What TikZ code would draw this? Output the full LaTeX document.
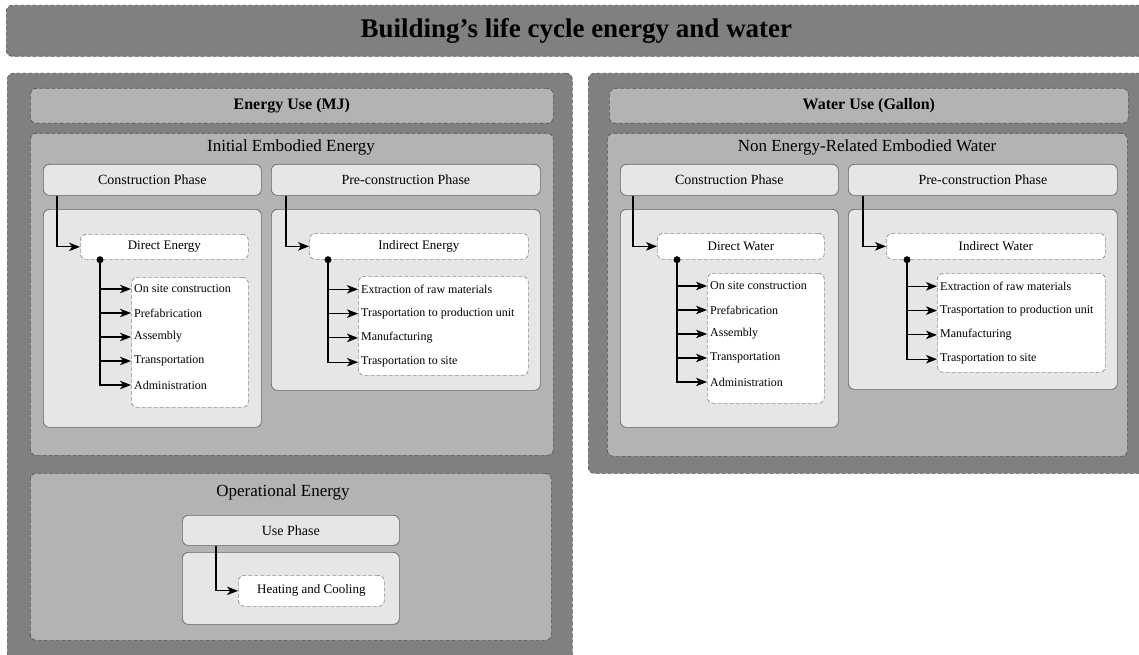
\documentclass[tikz,border=0pt]{standalone}
\usepackage{fontspec}
\setmainfont{Liberation Serif}
\usetikzlibrary{arrows.meta}
\definecolor{panelgray}{HTML}{808080}
\definecolor{headgray}{HTML}{B3B3B3}
\definecolor{phasegray}{HTML}{E6E6E6}
\definecolor{linegray}{HTML}{555555}

\begin{document}
\begin{tikzpicture}[x=1pt,y=-1pt,
    every node/.style={anchor=north west,inner sep=0pt},
    dashbox/.style={draw=linegray,dash pattern=on 4pt off 2pt,line width=0.7pt,rounded corners=6pt},
    panel/.style={dashbox,fill=panelgray},
    headbox/.style={dashbox,fill=headgray},
    phasebox/.style={draw=black!60,line width=0.7pt,fill=phasegray,rounded corners=6pt,font=\fontsize{14}{16}\selectfont},
    leafbox/.style={dashbox,draw=black!45,fill=white,font=\fontsize{13}{15}\selectfont},
    itemtxt/.style={anchor=west,inner xsep=3pt,font=\fontsize{12}{14}\selectfont},
    sectitle/.style={anchor=center,font=\fontsize{17}{19}\selectfont},
    flow/.style={line width=1.1pt,-{Stealth[length=11pt,width=8.5pt,inset=3pt]}}]
  \useasboundingbox (0,0) rectangle (1139,655);
  \clip (0,0) rectangle (1139,655);

  \node[panel,minimum width=1140,minimum height=51,font=\fontsize{27}{30}\selectfont\bfseries] (title) at (6,5) {Building's life cycle energy and water};

  % energy side
  \node[panel,minimum width=565,minimum height=600] (energy) at (7,73) {};
  \node[headbox,minimum width=523,minimum height=35,font=\fontsize{16}{18}\selectfont\bfseries] (ehead) at (30,88) {Energy Use (MJ)};
  \node[headbox,minimum width=523,minimum height=322] (initial) at (30,133) {};
  \node[sectitle] (initialT) at (291,147) {Initial Embodied Energy};

  \node[phasebox,minimum width=218,minimum height=31] (ecphase) at (43,164) {Construction Phase};
  \node[phasebox,minimum width=269,minimum height=31] (epphase) at (271,164) {Pre-construction Phase};
  \node[phasebox,minimum width=218,minimum height=218] (ecinner) at (43,209) {};
  \node[phasebox,minimum width=269,minimum height=181] (epinner) at (271,209) {};

  \node[leafbox,minimum width=168,minimum height=25] (dener) at (80,234) {Direct Energy};
  \node[leafbox,minimum width=117,minimum height=130] (denlist) at (131,277) {};
  \node[leafbox,minimum width=219,minimum height=26] (iener) at (309,233) {Indirect Energy};
  \node[leafbox,minimum width=170,minimum height=99] (ienlist) at (358,276) {};

  \draw[flow] ([xshift=14pt]ecphase.south west) |- (dener.west);
  \draw[flow] ([xshift=15pt]epphase.south west) |- (iener.west);
  \coordinate (dedot) at ([xshift=20pt]dener.south west);
  \coordinate (iedot) at ([xshift=19pt]iener.south west);
  \foreach \txt [count=\i] in {On site construction,Prefabrication,Assembly,Transportation,Administration} {
    \node[itemtxt] (de\i) at (131,265+24*\i) {\txt};
    \draw[flow] (dedot) |- (de\i.west);
  }
  \foreach \txt [count=\i] in {Extraction of raw materials,Trasportation to production unit,Manufacturing,Trasportation to site} {
    \node[itemtxt] (ie\i) at (358,265+24.3*\i) {\txt};
    \draw[flow] (iedot) |- (ie\i.west);
  }
  \fill (dedot) circle (3.5pt);
  \fill (iedot) circle (3.5pt);

  \node[headbox,minimum width=521,minimum height=167] (oper) at (30,473) {};
  \node[sectitle] (operT) at (283,492) {Operational Energy};
  \node[phasebox,minimum width=217,minimum height=30] (usephase) at (182,515) {Use Phase};
  \node[phasebox,minimum width=217,minimum height=72] (useinner) at (182,552) {};
  \node[leafbox,minimum width=146,minimum height=31] (heat) at (238,575) {Heating and Cooling};
  \draw[flow] ([xshift=34pt]usephase.south west) |- (heat.west);

  % water side
  \node[panel,minimum width=558,minimum height=400] (water) at (588,73) {};
  \node[headbox,minimum width=519,minimum height=35,font=\fontsize{16}{18}\selectfont\bfseries] (whead) at (609,88) {Water Use (Gallon)};
  \node[headbox,minimum width=520,minimum height=323] (nonen) at (607,133) {};
  \node[sectitle] (nonenT) at (867,147) {Non Energy-Related Embodied Water};

  \node[phasebox,minimum width=218,minimum height=31] (wcphase) at (620,164) {Construction Phase};
  \node[phasebox,minimum width=269,minimum height=31] (wpphase) at (848,164) {Pre-construction Phase};
  \node[phasebox,minimum width=218,minimum height=218] (wcinner) at (620,209) {};
  \node[phasebox,minimum width=269,minimum height=180] (wpinner) at (848,209) {};

  \node[leafbox,minimum width=167,minimum height=26] (dwat) at (657,233) {Direct Water};
  \node[leafbox,minimum width=117,minimum height=130] (dwatlist) at (707,273) {};
  \node[leafbox,minimum width=219,minimum height=26] (iwat) at (886,233) {Indirect Water};
  \node[leafbox,minimum width=168,minimum height=99] (iwatlist) at (937,273) {};

  \draw[flow] ([xshift=13pt]wcphase.south west) |- (dwat.west);
  \draw[flow] ([xshift=15pt]wpphase.south west) |- (iwat.west);
  \coordinate (dwdot) at ([xshift=20pt]dwat.south west);
  \coordinate (iwdot) at ([xshift=21pt]iwat.south west);
  \foreach \txt [count=\i] in {On site construction,Prefabrication,Assembly,Transportation,Administration} {
    \node[itemtxt] (dw\i) at (707,262+24*\i) {\txt};
    \draw[flow] (dwdot) |- (dw\i.west);
  }
  \foreach \txt [count=\i] in {Extraction of raw materials,Trasportation to production unit,Manufacturing,Trasportation to site} {
    \node[itemtxt] (iw\i) at (937,262+24.3*\i) {\txt};
    \draw[flow] (iwdot) |- (iw\i.west);
  }
  \fill (dwdot) circle (3.5pt);
  \fill (iwdot) circle (3.5pt);
\end{tikzpicture}
\end{document}
